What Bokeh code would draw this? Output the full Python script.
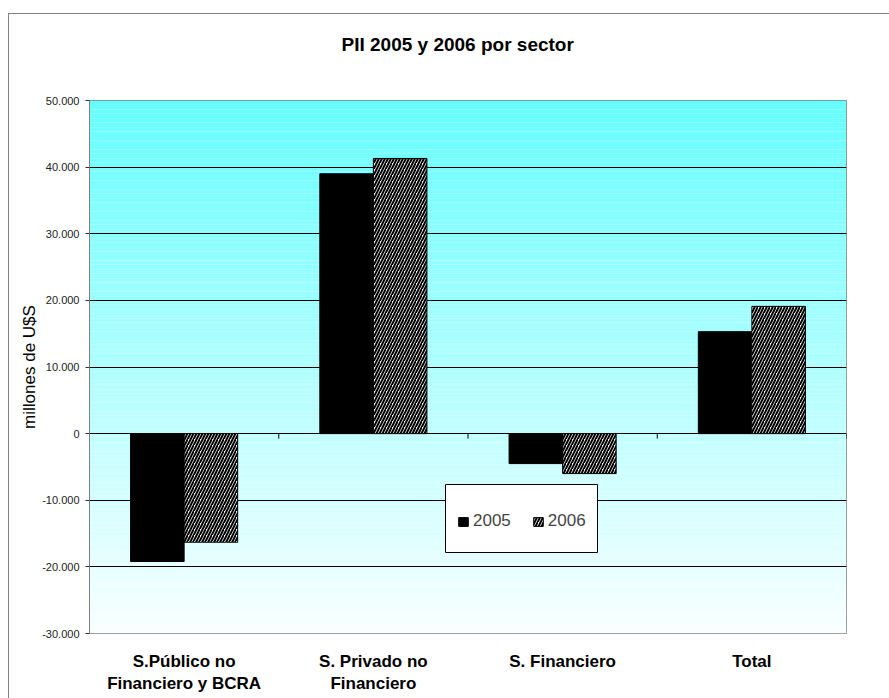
import numpy as np
from bokeh.plotting import figure
from bokeh.models import (FixedTicker, Range1d, Legend, LegendItem, BoxAnnotation, LinearAxis)
from bokeh.embed import file_html
from bokeh.resources import INLINE

# ---- data ----
categories = ["S.Público no\nFinanciero y BCRA", "S. Privado no\nFinanciero", "S. Financiero", "Total"]
series_names = ["2005", "2006"]
values_2005 = [-19200, 39000, -4500, 15300]
values_2006 = [-16300, 41300, -6000, 19100]
y_ticks = [-30000, -20000, -10000, 0, 10000, 20000, 30000, 40000, 50000]
y_tick_labels = ["-30.000", "-20.000", "-10.000", "0", "10.000", "20.000", "30.000", "40.000", "50.000"]
title_text = "PII 2005 y 2006 por sector"
y_label = "millones de U$S"

FONT = "Liberation Sans"
ymin, ymax = y_ticks[0], y_ticks[-1]
ncat = len(categories)

p = figure(width=881, height=685, output_backend="svg", toolbar_location=None,
           x_range=Range1d(0, ncat), y_range=Range1d(ymin, ymax),
           min_border_left=81, min_border_right=43, min_border_top=87, min_border_bottom=65)
p.margin = (13, 0, 0, 8)
p.border_fill_alpha = 0
p.styles = {"box-shadow": "inset 1px 1px 0 0 #808080"}
p.outline_line_color = "#808080"
p.outline_line_width = 1
p.xgrid.visible = False
p.ygrid.visible = False

# spacer between plot area and title (invisible axis above)
spacer = LinearAxis(ticker=FixedTicker(ticks=[2]), major_tick_out=41, major_tick_in=0,
                    axis_line_color=None, major_tick_line_color=None, minor_tick_line_color=None,
                    major_label_overrides={2: ""}, major_label_standoff=0,
                    major_label_text_alpha=0, major_label_text_font_size="1px")
p.add_layout(spacer, "above")

# title
p.title.text = title_text
p.title.align = "left"
p.title.text_font = FONT
p.title.text_font_size = "19px"
p.title.text_font_style = "bold"
p.title.text_color = "black"
p.title.standoff = 10
p.title.offset = 252

# gradient background of the plot area
n = 120
edges = np.linspace(ymin, ymax, n + 1)
frac = (ymax - (edges[:-1] + edges[1:]) / 2) / (ymax - ymin)
reds = (102 + frac * (250 - 102)).astype(int)
cols = ["#%02x%02x%02x" % (r, 255, 255) for r in reds]
p.quad(left=0, right=ncat, bottom=edges[:-1], top=edges[1:] + 1, fill_color=cols, line_color=None)

# grid lines (inner ticks)
p.hspan(y=y_ticks[1:-1], line_color="#000000", line_width=1)

# zero-line tick marks at category boundaries
px_per_unit = 533 / (ymax - ymin)
tick_len = 5 / px_per_unit
bounds = list(range(1, ncat + 1))
p.segment(x0=bounds, y0=[0] * len(bounds), x1=bounds, y1=[-tick_len] * len(bounds), line_color="#000000")

# bars
bw = 0.283
xc = np.arange(ncat) + 0.5
r05 = p.vbar(x=xc - bw / 2, width=bw, bottom=0, top=values_2005, fill_color="black", line_color="black")
r06 = p.vbar(x=xc + bw / 2, width=bw, bottom=0, top=values_2006, fill_color="white", line_color="black",
             hatch_pattern="right_diagonal_line", hatch_color="black", hatch_scale=6, hatch_weight=2)

# axes
p.yaxis.ticker = FixedTicker(ticks=y_ticks)
p.yaxis.major_label_overrides = dict(zip(y_ticks, y_tick_labels))
p.yaxis.major_label_text_font = FONT
p.yaxis.major_label_text_font_size = "11px"
p.yaxis.major_label_text_color = "#222222"
p.yaxis.major_tick_out = 4
p.yaxis.major_tick_in = 0
p.yaxis.minor_tick_line_color = None
p.yaxis.axis_line_color = "#808080"
p.yaxis.major_tick_line_color = "#333333"
p.yaxis.major_label_standoff = 6
p.yaxis.axis_label = y_label
p.yaxis.axis_label_text_font = FONT
p.yaxis.axis_label_text_font_size = "17px"
p.yaxis.axis_label_text_font_style = "normal"
p.yaxis.axis_label_text_color = "black"
p.yaxis.axis_label_standoff = 0

xaxis = p.below[0]
xaxis.ticker = FixedTicker(ticks=list(xc))
xaxis.major_label_overrides = {float(x): c for x, c in zip(xc, categories)}
xaxis.major_label_text_font = FONT
xaxis.major_label_text_font_size = "17px"
xaxis.major_label_text_font_style = "bold"
xaxis.major_label_text_color = "black"
xaxis.major_tick_line_color = None
xaxis.minor_tick_line_color = None
xaxis.axis_line_color = None
xaxis.major_label_standoff = 12

# legend box and legend
p.add_layout(BoxAnnotation(left=356, right=508, bottom=81, top=149,
                           left_units="screen", right_units="screen", bottom_units="screen", top_units="screen",
                           fill_color="white", fill_alpha=1, line_color="black", line_alpha=1, line_width=1))
legend = Legend(items=[LegendItem(label=series_names[0], renderers=[r05]),
                       LegendItem(label=series_names[1], renderers=[r06])],
                orientation="horizontal", location=(368, 102), padding=0, margin=0, spacing=21,
                glyph_width=12, glyph_height=11, label_standoff=4, label_height=11,
                label_text_font=FONT, label_text_font_size="17px",
                background_fill_alpha=0, border_line_color=None)
p.add_layout(legend, "center")

open("out.html", "w").write(file_html(p, INLINE))
